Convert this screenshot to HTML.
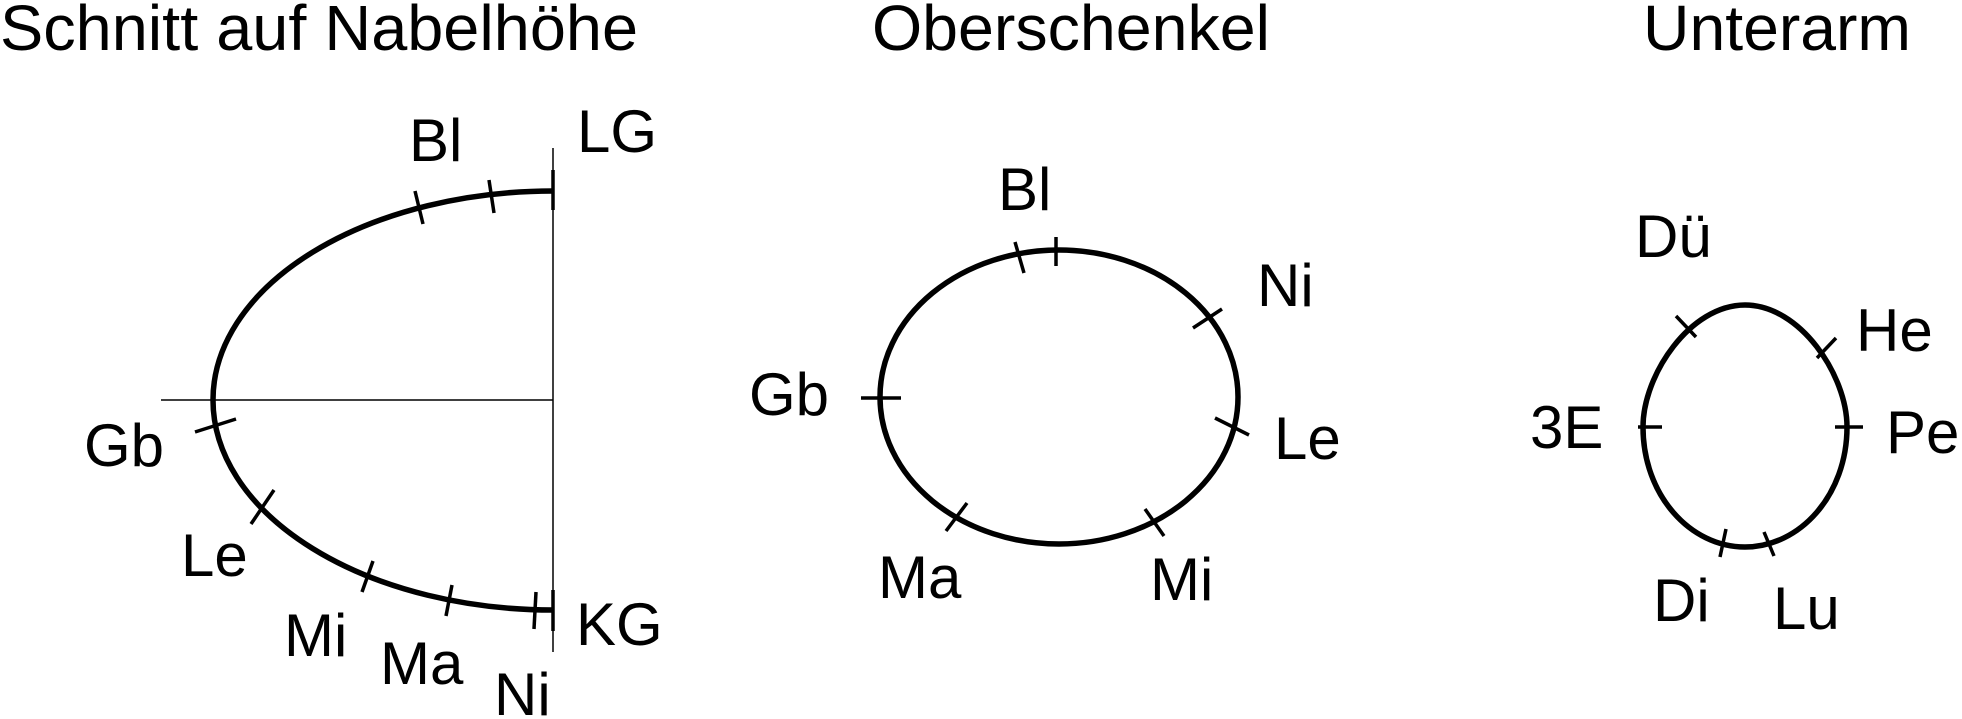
<!DOCTYPE html>
<html><head><meta charset="utf-8"><style>
html,body{margin:0;padding:0;background:#fff;}
svg{display:block;}
text{font-family:"Liberation Sans",Arial,sans-serif;fill:#000;}
.t{font-size:64px;}
.l{font-size:60px;}
.c{fill:none;stroke:#000;stroke-width:5.5;}
.k{stroke:#000;stroke-width:3.5;}
.th{stroke:#000;stroke-width:1.5;}
</style></head><body>
<svg width="1962" height="719" viewBox="0 0 1962 719">
<g>
<text class="t" x="0" y="50" textLength="638" lengthAdjust="spacingAndGlyphs">Schnitt auf Nabelhöhe</text>
<line class="th" x1="161" y1="400" x2="553" y2="400"/>
<line class="th" x1="553" y1="148" x2="553" y2="652"/>
<path class="c" d="M553,191 A340,209 0 0 0 213,400 A340,210 0 0 0 553,610"/>
<line class="k" x1="553" y1="170" x2="553" y2="210"/>
<line class="k" x1="415" y1="191" x2="423" y2="224"/>
<line class="k" x1="489" y1="180" x2="494" y2="213"/>
<line class="k" x1="195" y1="432" x2="236" y2="419"/>
<line class="k" x1="251" y1="524" x2="274" y2="490"/>
<line class="k" x1="362" y1="592" x2="373" y2="561"/>
<line class="k" x1="446" y1="616" x2="452" y2="585"/>
<line class="k" x1="534" y1="629" x2="536" y2="592"/>
<line class="k" x1="553" y1="590" x2="553" y2="631"/>
<text class="l" x="409" y="161">Bl</text>
<text class="l" x="577" y="152">LG</text>
<text class="l" x="84" y="466">Gb</text>
<text class="l" x="181" y="576">Le</text>
<text class="l" x="284" y="656">Mi</text>
<text class="l" x="380" y="684">Ma</text>
<text class="l" x="494" y="715">Ni</text>
<text class="l" x="576" y="645">KG</text>
</g>
<g>
<text class="t" x="872" y="50" textLength="398" lengthAdjust="spacingAndGlyphs">Oberschenkel</text>
<ellipse class="c" cx="1059" cy="397" rx="179" ry="147"/>
<line class="k" x1="1056" y1="237" x2="1056" y2="266"/>
<line class="k" x1="1015" y1="242" x2="1024" y2="273"/>
<line class="k" x1="1193" y1="328" x2="1222" y2="309"/>
<line class="k" x1="1215" y1="418" x2="1249" y2="435"/>
<line class="k" x1="1145" y1="509" x2="1164" y2="536"/>
<line class="k" x1="946" y1="531" x2="967" y2="503"/>
<line class="k" x1="861" y1="398" x2="901" y2="398"/>
<text class="l" x="998" y="210">Bl</text>
<text class="l" x="1257" y="306">Ni</text>
<text class="l" x="749" y="415">Gb</text>
<text class="l" x="1274" y="459">Le</text>
<text class="l" x="878" y="598">Ma</text>
<text class="l" x="1150" y="600">Mi</text>
</g>
<g>
<text class="t" x="1643" y="50" textLength="268" lengthAdjust="spacingAndGlyphs">Unterarm</text>
<path class="c" d="M1745,305 C1800,305 1847,375 1847,427 C1847,495 1800,547 1745,547 C1690,547 1643,495 1643,427 C1643,375 1690,305 1745,305 Z"/>
<line class="k" x1="1638" y1="427" x2="1662" y2="427"/>
<line class="k" x1="1835" y1="427" x2="1863" y2="427"/>
<line class="k" x1="1676" y1="316" x2="1696" y2="337"/>
<line class="k" x1="1836" y1="338" x2="1817" y2="358"/>
<line class="k" x1="1726" y1="529" x2="1720" y2="557"/>
<line class="k" x1="1764" y1="532" x2="1774" y2="556"/>
<text class="l" x="1635" y="257">Dü</text>
<text class="l" x="1856" y="351">He</text>
<text class="l" x="1530" y="448">3E</text>
<text class="l" x="1886" y="453">Pe</text>
<text class="l" x="1653" y="621">Di</text>
<text class="l" x="1773" y="629">Lu</text>
</g>
</svg>
</body></html>
